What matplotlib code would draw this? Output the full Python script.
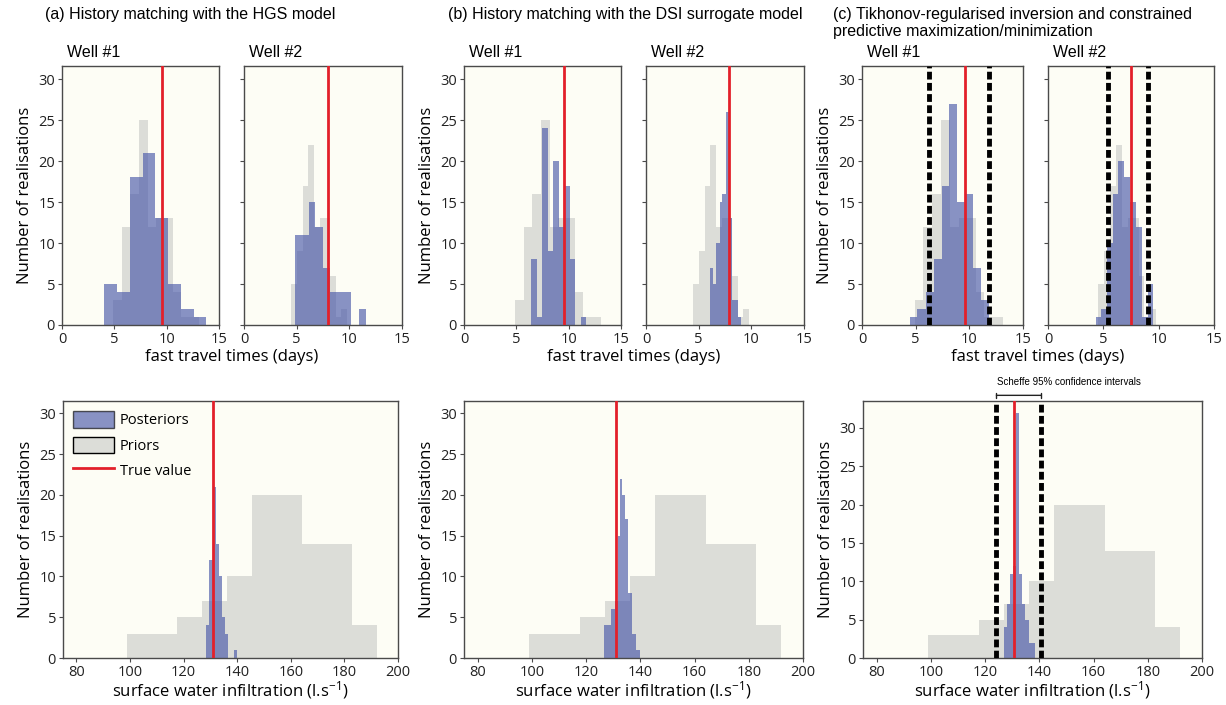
import numpy as np
import matplotlib
matplotlib.use('Agg')
import matplotlib.pyplot as plt
from matplotlib.patches import Patch
from matplotlib.lines import Line2D

plt.rcParams['mathtext.fontset'] = 'custom'
plt.rcParams['mathtext.rm'] = 'Open Sans'
plt.rcParams['mathtext.it'] = 'Open Sans'

# prior ensembles (same 100 realisations in every column)
prior_w1_edges = [4.9, 5.7, 6.5, 7.35, 8.2, 9.0, 9.8, 10.6, 11.4, 12.25, 13.1]
prior_w1_counts = [3, 12, 16, 25, 12, 13, 13, 4, 1, 1]
prior_w2_edges = [4.5, 5.05, 5.6, 6.1, 6.65, 7.2, 7.75, 8.2, 8.7, 9.2, 9.75]
prior_w2_counts = [5, 9, 17, 22, 12, 13, 13, 6, 1, 2]
prior_swi_edges = [99, 108.3, 117.6, 126.9, 136.2, 145.5, 154.8, 164.1, 173.4, 182.7, 192]
prior_swi_counts = [3, 3, 5, 7, 10, 20, 20, 14, 14, 4]

# (a) HGS history matching posteriors
a_w1_edges = [4.05, 5.25, 6.5, 7.7, 8.9, 10.1, 11.4, 12.6, 13.8]
a_w1_counts = [5, 4, 18, 21, 13, 5, 2, 1]
a_w2_edges = [4.8, 5.5, 6.2, 6.75, 7.5, 8.2, 8.9, 9.55, 10.2, 10.95, 11.6]
a_w2_counts = [11, 11, 15, 12, 7, 4, 4, 4, 0, 2]
a_swi_edges = [128.5, 129.65, 130.8, 131.95, 133.1, 134.25, 135.4, 136.55, 137.7, 138.85, 140.0]
a_swi_counts = [4, 12, 21, 14, 10, 5, 3, 0, 0, 1]

# (b) DSI surrogate posteriors
b_w1_edges = [6.4, 6.93, 7.46, 7.99, 8.52, 9.05, 9.58, 10.11, 10.64, 11.17, 11.7]
b_w1_counts = [8, 1, 24, 9, 20, 12, 17, 8, 0, 1]
b_w2_edges = [6.1, 6.35, 6.65, 7.0, 7.25, 7.6, 7.9, 8.15, 8.45, 8.75, 9.0]
b_w2_counts = [7, 5, 10, 15, 16, 26, 13, 3, 3, 1]
b_swi_edges = [126.6, 128.0, 129.3, 130.5, 131.7, 132.4, 133.2, 134.4, 135.6, 137.1, 138.6, 139.9]
b_swi_counts = [4, 4, 6, 7, 15, 22, 20, 17, 8, 3, 1]

# (c) Tikhonov posteriors
c_w1_edges = [4.45, 5.17, 5.96, 6.68, 7.43, 8.15, 8.87, 9.6, 10.35, 11.05, 11.8]
c_w1_counts = [1, 2, 4, 8, 17, 27, 15, 16, 7, 3]
c_w2_edges = [4.3, 4.83, 5.35, 5.9, 6.35, 6.85, 7.4, 7.95, 8.5, 9.0, 9.5]
c_w2_counts = [1, 2, 10, 16, 20, 18, 15, 12, 1, 5]
c_swi_edges = [126.9, 128.1, 129.3, 130.4, 131.4, 132.6, 133.7, 134.9, 136.1, 137.2, 138.3]
c_swi_counts = [4, 7, 11, 12, 32, 11, 7, 5, 2, 2]

# true values and predictive max/min bounds
true_w1 = [9.6, 9.56, 9.56]
true_w2 = [8.0, 7.9, 7.5]
true_swi = [131.0, 130.9, 130.5]
c_w1_bounds = [6.27, 11.85]
c_w2_bounds = [5.38, 9.06]
c_swi_bounds = [124.2, 140.7]

titles = ['(a) History matching with the HGS model',
          '(b) History matching with the DSI surrogate model',
          '(c) Tikhonov-regularised inversion and constrained\npredictive maximization/minimization']

post_col = '#4656a8'
post_alpha = 0.64
prior_col = '#dcddd8'
red = '#e3202a'
bg = '#fdfdf5'
spine_col = '#4a4a4a'
tick_font = 'Open Sans'
title_font = 'Liberation Sans'

fig = plt.figure(figsize=(12.26, 7.05), dpi=100)
W, H = 1226.0, 705.0


def px_axes(x0, y0, x1, y1):
    return fig.add_axes([x0 / W, 1 - y1 / H, (x1 - x0) / W, (y1 - y0) / H])


def style(ax, xlim, xticks, ylim, show_ylabels):
    ax.set_facecolor(bg)
    ax.set_xlim(*xlim)
    ax.set_ylim(*ylim)
    ax.set_xticks(xticks)
    ax.set_yticks([0, 5, 10, 15, 20, 25, 30])
    for s in ax.spines.values():
        s.set_color(spine_col)
        s.set_linewidth(1.0)
    ax.tick_params(direction='out', length=3, width=0.8, color=spine_col,
                   labelsize=10.5, labelcolor='#222222', pad=2)
    for lab in ax.get_xticklabels() + ax.get_yticklabels():
        lab.set_fontfamily(tick_font)
    if not show_ylabels:
        ax.set_yticklabels([])


def draw_hist(ax, edges, counts, prior_edges, prior_counts):
    ax.stairs(prior_counts, prior_edges, fill=True, color=prior_col, linewidth=0)
    ax.stairs(counts, edges, fill=True, color=post_col, alpha=post_alpha, linewidth=0)


def dotted(ax, x):
    ax.axvline(x, color='black', linewidth=3.5, linestyle=(0, (1.6, 0.7)), zorder=4)


top_boxes = [[(62, 219), (244, 402)],
             [(464, 621), (646, 804)],
             [(862, 1023), (1048, 1214)]]
bottom_boxes = [(63, 398), (464, 803), (863, 1202)]
title_x = [45, 448, 833]

posts_w1 = [(a_w1_edges, a_w1_counts), (b_w1_edges, b_w1_counts), (c_w1_edges, c_w1_counts)]
posts_w2 = [(a_w2_edges, a_w2_counts), (b_w2_edges, b_w2_counts), (c_w2_edges, c_w2_counts)]
posts_swi = [(a_swi_edges, a_swi_counts), (b_swi_edges, b_swi_counts), (c_swi_edges, c_swi_counts)]

for i in range(3):
    fig.text(title_x[i] / W, 1 - 7 / H, titles[i], ha='left', va='top',
             fontsize=11.5, family=title_font, linespacing=1.2)

    # top row: wells
    for j in range(2):
        x0, x1 = top_boxes[i][j]
        ax = px_axes(x0, 66, x1, 325)
        if j == 0:
            draw_hist(ax, *posts_w1[i], prior_w1_edges, prior_w1_counts)
            ax.axvline(true_w1[i], color=red, linewidth=2.0, zorder=5)
            if i == 2:
                for b in c_w1_bounds:
                    dotted(ax, b)
            ax.set_ylabel('Number of realisations', fontsize=12, family=tick_font, labelpad=4)
        else:
            draw_hist(ax, *posts_w2[i], prior_w2_edges, prior_w2_counts)
            ax.axvline(true_w2[i], color=red, linewidth=2.0, zorder=5)
            if i == 2:
                for b in c_w2_bounds:
                    dotted(ax, b)
        style(ax, (0, 15), [0, 5, 10, 15], (0, 31.6), j == 0)
        ax.text(0.03, 1.025, 'Well #%d' % (j + 1), transform=ax.transAxes,
                ha='left', va='bottom', fontsize=11.5, family=title_font)

    xc = (top_boxes[i][0][0] + top_boxes[i][1][1]) / 2.0
    fig.text(xc / W, 1 - 357 / H, 'fast travel times (days)', ha='center', va='center',
             fontsize=12, family=tick_font)

    # bottom row: surface water infiltration
    x0, x1 = bottom_boxes[i]
    ax = px_axes(x0, 401, x1, 658)
    draw_hist(ax, *posts_swi[i], prior_swi_edges, prior_swi_counts)
    ax.axvline(true_swi[i], color=red, linewidth=2.0, zorder=5)
    ytop = 31.5
    if i == 2:
        ytop = 33.5
        for b in c_swi_bounds:
            dotted(ax, b)
        ax.annotate('', xy=(c_swi_bounds[0], 1.022), xytext=(c_swi_bounds[1], 1.022),
                    xycoords=('data', 'axes fraction'), textcoords=('data', 'axes fraction'),
                    arrowprops=dict(arrowstyle='|-|,widthA=0.2,widthB=0.2', color='#222222', lw=1.0,
                                    shrinkA=0, shrinkB=0), annotation_clip=False)
        ax.text(c_swi_bounds[0] + 0.3, 1.055, 'Scheffe 95% confidence intervals',
                transform=ax.get_xaxis_transform(), ha='left', va='bottom',
                fontsize=7, family=title_font)
    style(ax, (75, 200), [80, 100, 120, 140, 160, 180, 200], (0, ytop), True)
    ax.set_ylabel('Number of realisations', fontsize=12, family=tick_font, labelpad=4)
    fig.text((x0 + x1) / 2.0 / W, 1 - 690 / H, 'surface water infiltration (l.s$^{-1}$)',
             ha='center', va='center', fontsize=12, family=tick_font)

    if i == 0:
        handles = [Patch(facecolor=post_col, alpha=post_alpha, edgecolor='black', linewidth=1.0),
                   Patch(facecolor=prior_col, edgecolor='black', linewidth=1.0),
                   Line2D([0], [0], color=red, linewidth=2.0)]
        leg = ax.legend(handles, ['Posteriors', 'Priors', 'True value'], loc='upper left',
                        frameon=False, handlelength=2.8, handleheight=1.4,
                        labelspacing=0.55, borderaxespad=0.3, handletextpad=0.4,
                        prop={'family': tick_font, 'size': 10.5})

fig.savefig('out.png', dpi=100, facecolor='white')
